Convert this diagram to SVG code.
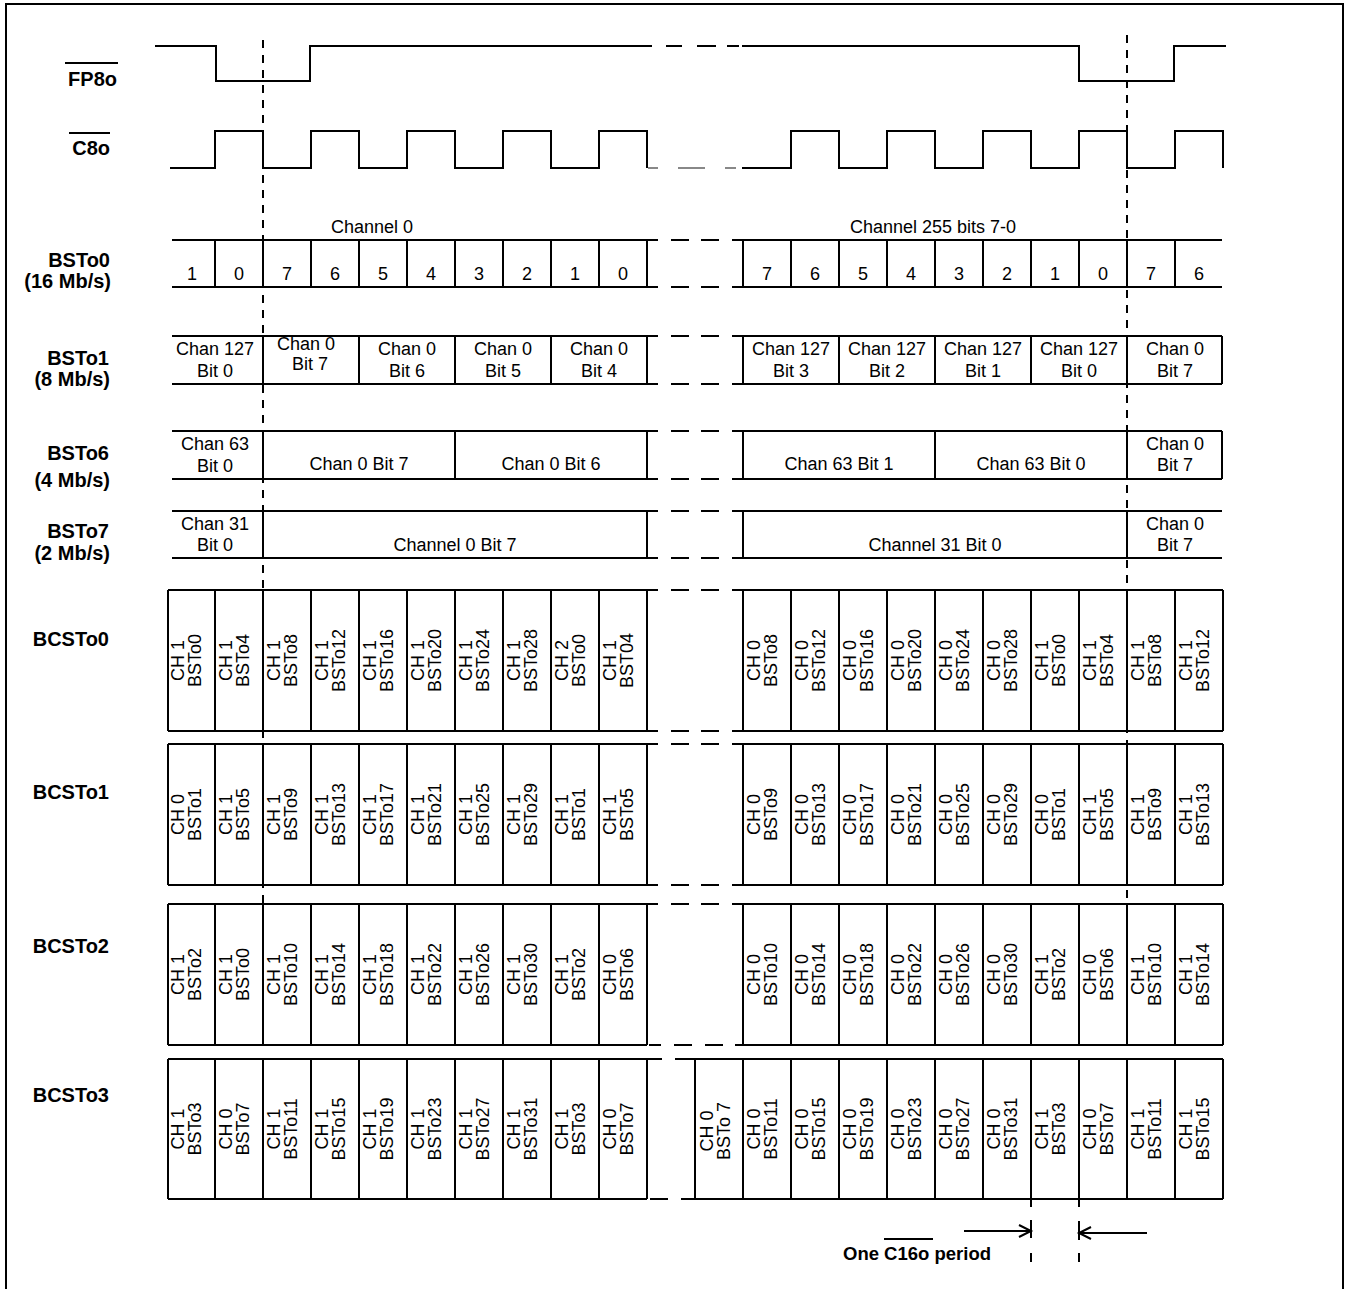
<svg xmlns="http://www.w3.org/2000/svg" width="1347" height="1289" viewBox="0 0 1347 1289">
<style>
.ln{stroke:#000;stroke-width:2;fill:none}
.gr{stroke:#888;stroke-width:2;fill:none}
.dash{stroke:#000;stroke-width:2;fill:none;stroke-dasharray:8 7}
.t{font-family:"Liberation Sans",Arial,sans-serif;font-size:18px;fill:#000;text-anchor:middle}
.r{font-family:"Liberation Sans",Arial,sans-serif;font-size:18px;fill:#000;text-anchor:middle}
.lb{font-family:"Liberation Sans",Arial,sans-serif;font-size:20px;font-weight:bold;fill:#000;text-anchor:end}
.bt{font-family:"Liberation Sans",Arial,sans-serif;font-size:18.5px;font-weight:bold;fill:#000}
</style>
<rect width="1347" height="1289" fill="#fff"/>
<g id="frame"><path class="ln" d="M6 1289V4H1343V1289"/></g>

<g id="fp8o">
<text class="lb" x="117" y="86">FP8o</text>
<path class="ln" d="M65 63H118"/>
<path class="ln" d="M155 46H216V81H310V46H652M666 46H682M697 46H716M727 46H739M742 46H1079V81H1174V46H1226"/>
</g>

<g id="c8o">
<text class="lb" x="110" y="155">C8o</text>
<path class="ln" d="M69 133H110"/>
<path class="ln" d="M170 168H215V131H263V168H311V131H359V168H407V131H455V168H503V131H551V168H599V131H647V168M742 168H791V131H839V168H887V131H935V168H983V131H1031V168H1079V131H1127V168H1175V131H1223V168"/>
<path class="gr" d="M648 168H658M678 168H705M725 168H736"/>
</g>

<g id="bsto0">
<text class="lb" x="110" y="267">BSTo0</text>
<text class="lb" x="111" y="288">(16 Mb/s)</text>
<text class="t" x="372" y="233">Channel 0</text>
<text class="t" x="933" y="233">Channel 255 bits 7-0</text>
<path class="ln" d="M172 240H658M671 240H689M701 240H719M732 240H1222M172 287H658M671 287H689M701 287H719M732 287H1222M215 240V287M263 240V287M311 240V287M359 240V287M407 240V287M455 240V287M503 240V287M551 240V287M599 240V287M647 240V287M743 240V287M791 240V287M839 240V287M887 240V287M935 240V287M983 240V287M1031 240V287M1079 240V287M1127 240V287M1175 240V287"/>
<text class="t" x="192" y="280">1</text><text class="t" x="239" y="280">0</text><text class="t" x="287" y="280">7</text><text class="t" x="335" y="280">6</text><text class="t" x="383" y="280">5</text><text class="t" x="431" y="280">4</text><text class="t" x="479" y="280">3</text><text class="t" x="527" y="280">2</text><text class="t" x="575" y="280">1</text><text class="t" x="623" y="280">0</text>
<text class="t" x="767" y="280">7</text><text class="t" x="815" y="280">6</text><text class="t" x="863" y="280">5</text><text class="t" x="911" y="280">4</text><text class="t" x="959" y="280">3</text><text class="t" x="1007" y="280">2</text><text class="t" x="1055" y="280">1</text><text class="t" x="1103" y="280">0</text><text class="t" x="1151" y="280">7</text><text class="t" x="1199" y="280">6</text>
</g>

<g id="bsto1">
<text class="lb" x="109" y="365">BSTo1</text>
<text class="lb" x="110" y="386">(8 Mb/s)</text>
<path class="ln" d="M172 336H658M671 336H689M701 336H719M732 336H1222M172 384H658M671 384H689M701 384H719M732 384H1222M263 336V384M359 336V384M455 336V384M551 336V384M647 336V384M743 336V384M839 336V384M935 336V384M1031 336V384M1127 336V384M1222 336V384"/>
<text class="t" x="215" y="355">Chan 127</text><text class="t" x="215" y="377">Bit 0</text>
<text class="t" x="306" y="350">Chan 0</text><text class="t" x="310" y="370">Bit 7</text>
<text class="t" x="407" y="355">Chan 0</text><text class="t" x="407" y="377">Bit 6</text>
<text class="t" x="503" y="355">Chan 0</text><text class="t" x="503" y="377">Bit 5</text>
<text class="t" x="599" y="355">Chan 0</text><text class="t" x="599" y="377">Bit 4</text>
<text class="t" x="791" y="355">Chan 127</text><text class="t" x="791" y="377">Bit 3</text>
<text class="t" x="887" y="355">Chan 127</text><text class="t" x="887" y="377">Bit 2</text>
<text class="t" x="983" y="355">Chan 127</text><text class="t" x="983" y="377">Bit 1</text>
<text class="t" x="1079" y="355">Chan 127</text><text class="t" x="1079" y="377">Bit 0</text>
<text class="t" x="1175" y="355">Chan 0</text><text class="t" x="1175" y="377">Bit 7</text>
</g>

<g id="bsto6">
<text class="lb" x="109" y="460">BSTo6</text>
<text class="lb" x="110" y="487">(4 Mb/s)</text>
<path class="ln" d="M172 431H658M671 431H689M701 431H719M732 431H1222M172 479H658M671 479H689M701 479H719M732 479H1222M263 431V479M455 431V479M647 431V479M743 431V479M935 431V479M1127 431V479M1222 431V479"/>
<text class="t" x="215" y="450">Chan 63</text><text class="t" x="215" y="472">Bit 0</text>
<text class="t" x="359" y="470">Chan 0 Bit 7</text>
<text class="t" x="551" y="470">Chan 0 Bit 6</text>
<text class="t" x="839" y="470">Chan 63 Bit 1</text>
<text class="t" x="1031" y="470">Chan 63 Bit 0</text>
<text class="t" x="1175" y="450">Chan 0</text><text class="t" x="1175" y="471">Bit 7</text>
</g>

<g id="bsto7">
<text class="lb" x="109" y="538">BSTo7</text>
<text class="lb" x="110" y="560">(2 Mb/s)</text>
<path class="ln" d="M172 511H658M671 511H689M701 511H719M732 511H1222M172 558H658M671 558H689M701 558H719M732 558H1222M263 511V558M647 511V558M743 511V558M1127 511V558"/>
<text class="t" x="215" y="530">Chan 31</text><text class="t" x="215" y="551">Bit 0</text>
<text class="t" x="455" y="551">Channel 0 Bit 7</text>
<text class="t" x="935" y="551">Channel 31 Bit 0</text>
<text class="t" x="1175" y="530">Chan 0</text><text class="t" x="1175" y="551">Bit 7</text>
</g>

<g id="bcsto0">
<text class="lb" x="109" y="646">BCSTo0</text>
<path class="ln" d="M168 590H658M671 590H689M701 590H719M732 590H1223M168 731H658M671 731H689M701 731H719M732 731H1223M168 590V731M215 590V731M263 590V731M311 590V731M359 590V731M407 590V731M455 590V731M503 590V731M551 590V731M599 590V731M647 590V731M743 590V731M791 590V731M839 590V731M887 590V731M935 590V731M983 590V731M1031 590V731M1079 590V731M1127 590V731M1175 590V731M1223 590V731"/>
<text class="r" transform="translate(184 660.5) rotate(-90)"><tspan x="0">CH 1</tspan><tspan x="0" y="16.5">BSTo0</tspan></text>
<text class="r" transform="translate(232 660.5) rotate(-90)"><tspan x="0">CH 1</tspan><tspan x="0" y="16.5">BSTo4</tspan></text>
<text class="r" transform="translate(280 660.5) rotate(-90)"><tspan x="0">CH 1</tspan><tspan x="0" y="16.5">BSTo8</tspan></text>
<text class="r" transform="translate(328 660.5) rotate(-90)"><tspan x="0">CH 1</tspan><tspan x="0" y="16.5">BSTo12</tspan></text>
<text class="r" transform="translate(376 660.5) rotate(-90)"><tspan x="0">CH 1</tspan><tspan x="0" y="16.5">BSTo16</tspan></text>
<text class="r" transform="translate(424 660.5) rotate(-90)"><tspan x="0">CH 1</tspan><tspan x="0" y="16.5">BSTo20</tspan></text>
<text class="r" transform="translate(472 660.5) rotate(-90)"><tspan x="0">CH 1</tspan><tspan x="0" y="16.5">BSTo24</tspan></text>
<text class="r" transform="translate(520 660.5) rotate(-90)"><tspan x="0">CH 1</tspan><tspan x="0" y="16.5">BSTo28</tspan></text>
<text class="r" transform="translate(568 660.5) rotate(-90)"><tspan x="0">CH 2</tspan><tspan x="0" y="16.5">BSTo0</tspan></text>
<text class="r" transform="translate(616 660.5) rotate(-90)"><tspan x="0">CH 1</tspan><tspan x="0" y="16.5">BST04</tspan></text>
<text class="r" transform="translate(760 660.5) rotate(-90)"><tspan x="0">CH 0</tspan><tspan x="0" y="16.5">BSTo8</tspan></text>
<text class="r" transform="translate(808 660.5) rotate(-90)"><tspan x="0">CH 0</tspan><tspan x="0" y="16.5">BSTo12</tspan></text>
<text class="r" transform="translate(856 660.5) rotate(-90)"><tspan x="0">CH 0</tspan><tspan x="0" y="16.5">BSTo16</tspan></text>
<text class="r" transform="translate(904 660.5) rotate(-90)"><tspan x="0">CH 0</tspan><tspan x="0" y="16.5">BSTo20</tspan></text>
<text class="r" transform="translate(952 660.5) rotate(-90)"><tspan x="0">CH 0</tspan><tspan x="0" y="16.5">BSTo24</tspan></text>
<text class="r" transform="translate(1000 660.5) rotate(-90)"><tspan x="0">CH 0</tspan><tspan x="0" y="16.5">BSTo28</tspan></text>
<text class="r" transform="translate(1048 660.5) rotate(-90)"><tspan x="0">CH 1</tspan><tspan x="0" y="16.5">BSTo0</tspan></text>
<text class="r" transform="translate(1096 660.5) rotate(-90)"><tspan x="0">CH 1</tspan><tspan x="0" y="16.5">BSTo4</tspan></text>
<text class="r" transform="translate(1144 660.5) rotate(-90)"><tspan x="0">CH 1</tspan><tspan x="0" y="16.5">BSTo8</tspan></text>
<text class="r" transform="translate(1192 660.5) rotate(-90)"><tspan x="0">CH 1</tspan><tspan x="0" y="16.5">BSTo12</tspan></text>
</g>

<g id="bcsto1">
<text class="lb" x="109" y="799">BCSTo1</text>
<path class="ln" d="M168 744H658M671 744H689M701 744H719M732 744H1223M168 885H658M671 885H689M701 885H719M732 885H1223M168 744V885M215 744V885M263 744V885M311 744V885M359 744V885M407 744V885M455 744V885M503 744V885M551 744V885M599 744V885M647 744V885M743 744V885M791 744V885M839 744V885M887 744V885M935 744V885M983 744V885M1031 744V885M1079 744V885M1127 744V885M1175 744V885M1223 744V885"/>
<text class="r" transform="translate(184 814.5) rotate(-90)"><tspan x="0">CH 0</tspan><tspan x="0" y="16.5">BSTo1</tspan></text>
<text class="r" transform="translate(232 814.5) rotate(-90)"><tspan x="0">CH 1</tspan><tspan x="0" y="16.5">BSTo5</tspan></text>
<text class="r" transform="translate(280 814.5) rotate(-90)"><tspan x="0">CH 1</tspan><tspan x="0" y="16.5">BSTo9</tspan></text>
<text class="r" transform="translate(328 814.5) rotate(-90)"><tspan x="0">CH 1</tspan><tspan x="0" y="16.5">BSTo13</tspan></text>
<text class="r" transform="translate(376 814.5) rotate(-90)"><tspan x="0">CH 1</tspan><tspan x="0" y="16.5">BSTo17</tspan></text>
<text class="r" transform="translate(424 814.5) rotate(-90)"><tspan x="0">CH 1</tspan><tspan x="0" y="16.5">BSTo21</tspan></text>
<text class="r" transform="translate(472 814.5) rotate(-90)"><tspan x="0">CH 1</tspan><tspan x="0" y="16.5">BSTo25</tspan></text>
<text class="r" transform="translate(520 814.5) rotate(-90)"><tspan x="0">CH 1</tspan><tspan x="0" y="16.5">BSTo29</tspan></text>
<text class="r" transform="translate(568 814.5) rotate(-90)"><tspan x="0">CH 1</tspan><tspan x="0" y="16.5">BSTo1</tspan></text>
<text class="r" transform="translate(616 814.5) rotate(-90)"><tspan x="0">CH 1</tspan><tspan x="0" y="16.5">BSTo5</tspan></text>
<text class="r" transform="translate(760 814.5) rotate(-90)"><tspan x="0">CH 0</tspan><tspan x="0" y="16.5">BSTo9</tspan></text>
<text class="r" transform="translate(808 814.5) rotate(-90)"><tspan x="0">CH 0</tspan><tspan x="0" y="16.5">BSTo13</tspan></text>
<text class="r" transform="translate(856 814.5) rotate(-90)"><tspan x="0">CH 0</tspan><tspan x="0" y="16.5">BSTo17</tspan></text>
<text class="r" transform="translate(904 814.5) rotate(-90)"><tspan x="0">CH 0</tspan><tspan x="0" y="16.5">BSTo21</tspan></text>
<text class="r" transform="translate(952 814.5) rotate(-90)"><tspan x="0">CH 0</tspan><tspan x="0" y="16.5">BSTo25</tspan></text>
<text class="r" transform="translate(1000 814.5) rotate(-90)"><tspan x="0">CH 0</tspan><tspan x="0" y="16.5">BSTo29</tspan></text>
<text class="r" transform="translate(1048 814.5) rotate(-90)"><tspan x="0">CH 0</tspan><tspan x="0" y="16.5">BSTo1</tspan></text>
<text class="r" transform="translate(1096 814.5) rotate(-90)"><tspan x="0">CH 1</tspan><tspan x="0" y="16.5">BSTo5</tspan></text>
<text class="r" transform="translate(1144 814.5) rotate(-90)"><tspan x="0">CH 1</tspan><tspan x="0" y="16.5">BSTo9</tspan></text>
<text class="r" transform="translate(1192 814.5) rotate(-90)"><tspan x="0">CH 1</tspan><tspan x="0" y="16.5">BSTo13</tspan></text>
</g>

<g id="bcsto2">
<text class="lb" x="109" y="953">BCSTo2</text>
<path class="ln" d="M168 904H658M671 904H689M701 904H719M732 904H1223M168 1045H647M649 1045H661M674 1045H692M705 1045H723M735 1045H1223M168 904V1045M215 904V1045M263 904V1045M311 904V1045M359 904V1045M407 904V1045M455 904V1045M503 904V1045M551 904V1045M599 904V1045M647 904V1045M743 904V1045M791 904V1045M839 904V1045M887 904V1045M935 904V1045M983 904V1045M1031 904V1045M1079 904V1045M1127 904V1045M1175 904V1045M1223 904V1045"/>
<text class="r" transform="translate(184 974.5) rotate(-90)"><tspan x="0">CH 1</tspan><tspan x="0" y="16.5">BSTo2</tspan></text>
<text class="r" transform="translate(232 974.5) rotate(-90)"><tspan x="0">CH 1</tspan><tspan x="0" y="16.5">BSTo0</tspan></text>
<text class="r" transform="translate(280 974.5) rotate(-90)"><tspan x="0">CH 1</tspan><tspan x="0" y="16.5">BSTo10</tspan></text>
<text class="r" transform="translate(328 974.5) rotate(-90)"><tspan x="0">CH 1</tspan><tspan x="0" y="16.5">BSTo14</tspan></text>
<text class="r" transform="translate(376 974.5) rotate(-90)"><tspan x="0">CH 1</tspan><tspan x="0" y="16.5">BSTo18</tspan></text>
<text class="r" transform="translate(424 974.5) rotate(-90)"><tspan x="0">CH 1</tspan><tspan x="0" y="16.5">BSTo22</tspan></text>
<text class="r" transform="translate(472 974.5) rotate(-90)"><tspan x="0">CH 1</tspan><tspan x="0" y="16.5">BSTo26</tspan></text>
<text class="r" transform="translate(520 974.5) rotate(-90)"><tspan x="0">CH 1</tspan><tspan x="0" y="16.5">BSTo30</tspan></text>
<text class="r" transform="translate(568 974.5) rotate(-90)"><tspan x="0">CH 1</tspan><tspan x="0" y="16.5">BSTo2</tspan></text>
<text class="r" transform="translate(616 974.5) rotate(-90)"><tspan x="0">CH 0</tspan><tspan x="0" y="16.5">BSTo6</tspan></text>
<text class="r" transform="translate(760 974.5) rotate(-90)"><tspan x="0">CH 0</tspan><tspan x="0" y="16.5">BSTo10</tspan></text>
<text class="r" transform="translate(808 974.5) rotate(-90)"><tspan x="0">CH 0</tspan><tspan x="0" y="16.5">BSTo14</tspan></text>
<text class="r" transform="translate(856 974.5) rotate(-90)"><tspan x="0">CH 0</tspan><tspan x="0" y="16.5">BSTo18</tspan></text>
<text class="r" transform="translate(904 974.5) rotate(-90)"><tspan x="0">CH 0</tspan><tspan x="0" y="16.5">BSTo22</tspan></text>
<text class="r" transform="translate(952 974.5) rotate(-90)"><tspan x="0">CH 0</tspan><tspan x="0" y="16.5">BSTo26</tspan></text>
<text class="r" transform="translate(1000 974.5) rotate(-90)"><tspan x="0">CH 0</tspan><tspan x="0" y="16.5">BSTo30</tspan></text>
<text class="r" transform="translate(1048 974.5) rotate(-90)"><tspan x="0">CH 1</tspan><tspan x="0" y="16.5">BSTo2</tspan></text>
<text class="r" transform="translate(1096 974.5) rotate(-90)"><tspan x="0">CH 0</tspan><tspan x="0" y="16.5">BSTo6</tspan></text>
<text class="r" transform="translate(1144 974.5) rotate(-90)"><tspan x="0">CH 1</tspan><tspan x="0" y="16.5">BSTo10</tspan></text>
<text class="r" transform="translate(1192 974.5) rotate(-90)"><tspan x="0">CH 1</tspan><tspan x="0" y="16.5">BSTo14</tspan></text>
</g>

<g id="bcsto3">
<text class="lb" x="109" y="1102">BCSTo3</text>
<path class="ln" d="M168 1059H662M675 1059H1223M168 1199H647M650 1199H668M681 1199H1223M168 1059V1199M215 1059V1199M263 1059V1199M311 1059V1199M359 1059V1199M407 1059V1199M455 1059V1199M503 1059V1199M551 1059V1199M599 1059V1199M647 1059V1199M695 1059V1199M743 1059V1199M791 1059V1199M839 1059V1199M887 1059V1199M935 1059V1199M983 1059V1199M1031 1059V1199M1079 1059V1199M1127 1059V1199M1175 1059V1199M1223 1059V1199"/>
<text class="r" transform="translate(184 1129) rotate(-90)"><tspan x="0">CH 1</tspan><tspan x="0" y="16.5">BSTo3</tspan></text>
<text class="r" transform="translate(232 1129) rotate(-90)"><tspan x="0">CH 0</tspan><tspan x="0" y="16.5">BSTo7</tspan></text>
<text class="r" transform="translate(280 1129) rotate(-90)"><tspan x="0">CH 1</tspan><tspan x="0" y="16.5">BSTo11</tspan></text>
<text class="r" transform="translate(328 1129) rotate(-90)"><tspan x="0">CH 1</tspan><tspan x="0" y="16.5">BSTo15</tspan></text>
<text class="r" transform="translate(376 1129) rotate(-90)"><tspan x="0">CH 1</tspan><tspan x="0" y="16.5">BSTo19</tspan></text>
<text class="r" transform="translate(424 1129) rotate(-90)"><tspan x="0">CH 1</tspan><tspan x="0" y="16.5">BSTo23</tspan></text>
<text class="r" transform="translate(472 1129) rotate(-90)"><tspan x="0">CH 1</tspan><tspan x="0" y="16.5">BSTo27</tspan></text>
<text class="r" transform="translate(520 1129) rotate(-90)"><tspan x="0">CH 1</tspan><tspan x="0" y="16.5">BSTo31</tspan></text>
<text class="r" transform="translate(568 1129) rotate(-90)"><tspan x="0">CH 1</tspan><tspan x="0" y="16.5">BSTo3</tspan></text>
<text class="r" transform="translate(616 1129) rotate(-90)"><tspan x="0">CH 0</tspan><tspan x="0" y="16.5">BSTo7</tspan></text>
<text class="r" transform="translate(713 1131) rotate(-90)"><tspan x="0">CH 0</tspan><tspan x="0" y="16.5">BSTo 7</tspan></text>
<text class="r" transform="translate(760 1129) rotate(-90)"><tspan x="0">CH 0</tspan><tspan x="0" y="16.5">BSTo11</tspan></text>
<text class="r" transform="translate(808 1129) rotate(-90)"><tspan x="0">CH 0</tspan><tspan x="0" y="16.5">BSTo15</tspan></text>
<text class="r" transform="translate(856 1129) rotate(-90)"><tspan x="0">CH 0</tspan><tspan x="0" y="16.5">BSTo19</tspan></text>
<text class="r" transform="translate(904 1129) rotate(-90)"><tspan x="0">CH 0</tspan><tspan x="0" y="16.5">BSTo23</tspan></text>
<text class="r" transform="translate(952 1129) rotate(-90)"><tspan x="0">CH 0</tspan><tspan x="0" y="16.5">BSTo27</tspan></text>
<text class="r" transform="translate(1000 1129) rotate(-90)"><tspan x="0">CH 0</tspan><tspan x="0" y="16.5">BSTo31</tspan></text>
<text class="r" transform="translate(1048 1129) rotate(-90)"><tspan x="0">CH 1</tspan><tspan x="0" y="16.5">BSTo3</tspan></text>
<text class="r" transform="translate(1096 1129) rotate(-90)"><tspan x="0">CH 0</tspan><tspan x="0" y="16.5">BSTo7</tspan></text>
<text class="r" transform="translate(1144 1129) rotate(-90)"><tspan x="0">CH 1</tspan><tspan x="0" y="16.5">BSTo11</tspan></text>
<text class="r" transform="translate(1192 1129) rotate(-90)"><tspan x="0">CH 1</tspan><tspan x="0" y="16.5">BSTo15</tspan></text>
</g>

<g id="connectors">
<path class="dash" d="M263 40V904"/>
<path class="dash" d="M1127 35V904"/>
<path class="ln" d="M1031 1200V1207M1031 1220V1238M1031 1253V1262M1079 1200V1207M1079 1221V1240M1079 1253V1262"/>
<path class="ln" d="M964 1231H1031M1019 1225L1031 1231L1019 1237"/>
<path class="ln" d="M1079 1233H1147M1091 1227L1079 1233L1091 1239"/>
</g>

<g id="period-label">
<text class="bt" x="843" y="1260">One C16o period</text>
<path class="ln" d="M884 1239H933"/>
</g>
</svg>
